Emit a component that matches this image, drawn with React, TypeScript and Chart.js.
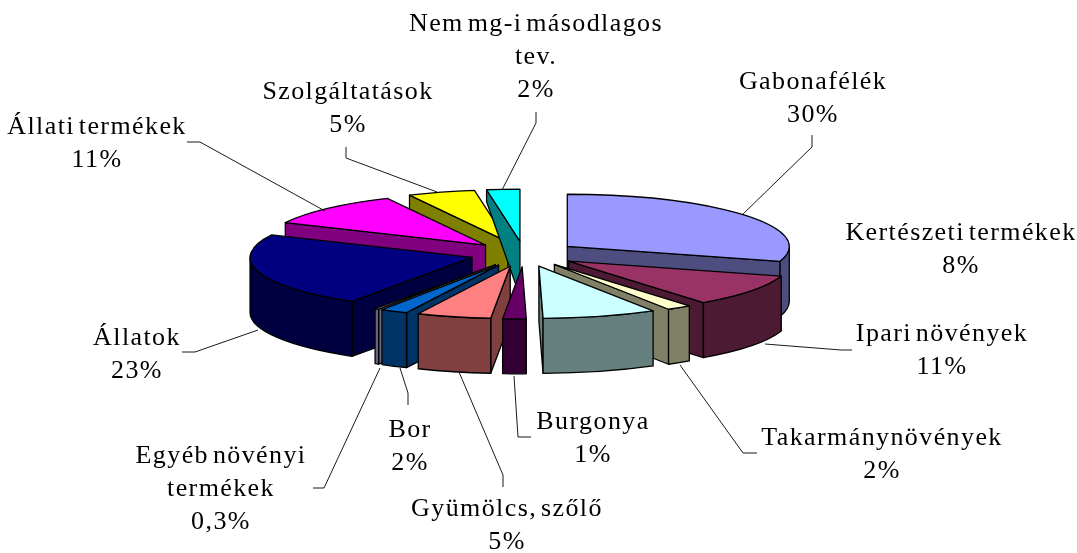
import React, { useEffect, useRef } from "react";
import { Chart, registerables } from "chart.js";

Chart.register(...registerables);

const categories = ["Gabonafélék", "Ipari növények", "Takarmánynövények", "Kertészeti termékek", "Burgonya", "Gyümölcs, szőlő", "Bor", "Egyéb növényi termékek", "Állatok", "Állati termékek", "Szolgáltatások", "Nem mg-i másodlagos tev."];
const shares = [29.6, 10, 1.8, 8.3, 1.7, 5.4, 2, 0.3, 23, 10.6, 4.9, 2.4];
const topColors = ["#9999FF", "#993366", "#FFFFCC", "#CCFFFF", "#660066", "#FF8080", "#0066CC", "#CCCCFF", "#000080", "#FF00FF", "#FFFF00", "#00FFFF"];
const sideColors = ["#4D4D80", "#4D1A33", "#808066", "#668080", "#330033", "#804040", "#003366", "#666680", "#000040", "#800080", "#808000", "#008080"];
const paintOrder = [10, 11, 9, 8, 7, 6, 5, 4, 0, 1, 2, 3];

const labelLines = [
  ["Gabonafélék", "30%"],
  ["Ipari növények", "11%"],
  ["Takarmánynövények", "2%"],
  ["Kertészeti termékek", "8%"],
  ["Burgonya", "1%"],
  ["Gyümölcs, szőlő", "5%"],
  ["Bor", "2%"],
  ["Egyéb növényi", "termékek", "0,3%"],
  ["Állatok", "23%"],
  ["Állati termékek", "11%"],
  ["Szolgáltatások", "5%"],
  ["Nem mg-i másodlagos", "tev.", "2%"],
];
const labelAnchors = [[813, 82], [942, 334], [882, 438], [961, 233], [593, 422], [507, 509], [410, 430], [221, 456], [137, 338], [97, 127], [348, 92], [536, 24]];
const leaders: number[][][] = [
  [[743, 214], [812, 147], [812, 135]],
  [[765, 344], [841, 350], [852, 350]],
  [[680, 365], [743, 453], [757, 453]],
  [],
  [[514, 376], [518, 437], [531, 437]],
  [[459, 372], [503, 475], [503, 487]],
  [[400, 368], [408, 393], [408, 405]],
  [[380, 368], [324, 488], [313, 488]],
  [[258, 330], [195, 352], [182, 352]],
  [[325, 211], [200, 142], [187, 142]],
  [[437, 192], [346, 158], [346, 147]],
  [[502, 190], [536, 123], [536, 112]],
];

const RADIUS = 222;
const SQUASH = 0.235;
const EXPLODE = 54;
const DEPTH = 55;
const LINE = 1.3;

// walls look shorter toward the back of the tilted pie
const depthAt = (y: number) => Math.min(DEPTH, Math.max(12, DEPTH - (245 - y) * 0.8));

const piePlugin = {
  id: "tiltedPie",
  beforeDatasetsDraw(chart: any) {
    const ctx = chart.ctx;
    const arcs = chart.getDatasetMeta(0).data;
    for (const i of paintOrder) {
      const el = arcs[i];
      const { startAngle: a, endAngle: b, outerRadius: r, x, y } = el;
      const mid = (a + b) / 2;
      const ax = x + Math.cos(mid) * EXPLODE;
      const ay = y + Math.sin(mid) * EXPLODE * SQUASH;
      const px = (t: number) => ax + Math.cos(t) * r;
      const py = (t: number) => ay + Math.sin(t) * r * SQUASH;
      ctx.save();
      ctx.lineWidth = LINE;
      ctx.lineJoin = "round";
      ctx.strokeStyle = "#000";
      ctx.fillStyle = sideColors[i];
      const face = (t: number) => {
        ctx.beginPath();
        ctx.moveTo(ax, ay);
        ctx.lineTo(px(t), py(t));
        ctx.lineTo(px(t), py(t) + depthAt(py(t)));
        ctx.lineTo(ax, ay + DEPTH);
        ctx.closePath();
        ctx.fill();
        ctx.stroke();
      };
      if (Math.cos(a) < -1e-3) face(a);
      if (Math.cos(b) > 1e-3) face(b);
      const lo = Math.max(a, 0);
      const hi = Math.min(b, Math.PI);
      if (hi > lo) {
        ctx.beginPath();
        ctx.ellipse(ax, ay, r, r * SQUASH, 0, lo, hi);
        ctx.lineTo(px(hi), py(hi) + DEPTH);
        ctx.ellipse(ax, ay + DEPTH, r, r * SQUASH, 0, hi, lo, true);
        ctx.closePath();
        ctx.fill();
        ctx.stroke();
      }
      ctx.save();
      ctx.translate(ax, ay);
      ctx.scale(1, SQUASH);
      ctx.translate(-x, -y);
      el.draw(ctx);
      ctx.restore();
      ctx.beginPath();
      ctx.moveTo(ax, ay);
      ctx.ellipse(ax, ay, r, r * SQUASH, 0, a, b);
      ctx.closePath();
      ctx.stroke();
      ctx.restore();
    }
    return false;
  },
  afterDraw(chart: any) {
    const ctx = chart.ctx;
    ctx.save();
    ctx.strokeStyle = "#000";
    ctx.lineWidth = 0.9;
    for (const pts of leaders) {
      if (!pts.length) continue;
      ctx.beginPath();
      pts.forEach(([px, py], k) => (k ? ctx.lineTo(px, py) : ctx.moveTo(px, py)));
      ctx.stroke();
    }
    ctx.fillStyle = "#000";
    ctx.font = '26px "Liberation Serif"';
    ctx.letterSpacing = "1.4px";
    ctx.wordSpacing = "-4px";
    ctx.textAlign = "center";
    ctx.textBaseline = "middle";
    labelLines.forEach((lines, i) => {
      const [lx, ly] = labelAnchors[i];
      lines.forEach((t, k) => ctx.fillText(t, lx, ly + k * 33));
    });
    ctx.restore();
  },
};

export default function App() {
  const ref = useRef<HTMLCanvasElement>(null);
  useEffect(() => {
    document.body.style.margin = "0";
    const chart = new Chart(ref.current!, {
      type: "pie",
      data: {
        labels: categories,
        datasets: [{ data: shares, backgroundColor: topColors, borderWidth: 0, radius: RADIUS }],
      },
      options: {
        responsive: false,
        animation: false,
        layout: { padding: { right: 29, bottom: 45 } },
        plugins: { legend: { display: false }, tooltip: { enabled: false } },
      },
      plugins: [piePlugin],
    } as any);
    return () => chart.destroy();
  }, []);
  return <canvas ref={ref} width={1077} height={553} style={{ display: "block" }} />;
}
